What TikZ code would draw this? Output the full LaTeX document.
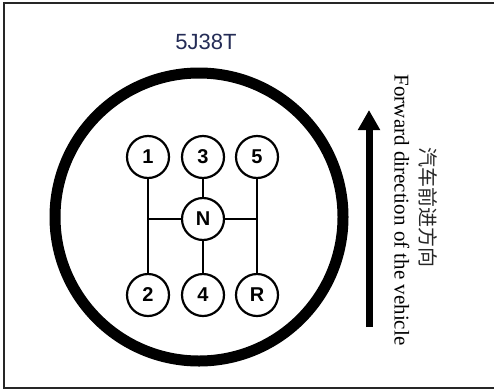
\documentclass[tikz,border=0pt]{standalone}
\usepackage{fontspec}
\setsansfont{Liberation Sans}
\newfontfamily\cjk{Noto Sans CJK SC}
\newfontfamily\capserif{Liberation Serif}
\definecolor{titleNavy}{RGB}{36,44,86}
\usetikzlibrary{arrows.meta,positioning}

\begin{document}
\begin{tikzpicture}[
  x=1pt,y=-1pt,
  gear/.style={draw,circle,line width=2.2pt,minimum size=42pt,inner sep=0pt,
    font=\sffamily\bfseries\fontsize{20}{22}\selectfont},
  rail/.style={line width=1.5pt},
  captext/.style={rotate=-90,inner sep=0pt}
]
\useasboundingbox (0,0) rectangle (494,391);
% frame, open on the right
\draw[line width=2.5pt,black!85] (494,3) -- (4,3) -- (4,388) -- (494,388);
% title and knob ring
\node[font=\sffamily\fontsize{22}{24}\selectfont,text=titleNavy] (title) at (206,42) {5J38T};
\draw[line width=11pt] (199,217) circle[radius=144pt];
% gear positions
\node[gear] (g1) at (148,157) {1};
\node[gear] (g3) at (203,157) {3};
\node[gear] (g5) at (257,157) {5};
\node[gear] (gN) at (203,219) {N};
\node[gear] (g2) at (148,295) {2};
\node[gear] (g4) at (203,295) {4};
\node[gear] (gR) at (257,295) {R};
% shift gate
\draw[rail] (g1) -- (g2);
\draw[rail] (g5) -- (gR);
\draw[rail] (g3) -- (gN);
\draw[rail] (gN) -- (g4);
\draw[rail] (gN) -- (gN -| g1);
\draw[rail] (gN) -- (gN -| g5);
% forward arrow and captions
\coordinate (arrtail) at (369,327);
\coordinate (arrtip) at (369,110);
\draw[line width=7pt,-{Triangle[width=21pt,length=20pt]}] (arrtail) -- (arrtip);
\node[captext,font=\capserif\fontsize{21}{24}\selectfont] (capen) at (402,210) {Forward direction of the vehicle};
\node[captext,font=\cjk\fontsize{20}{24}\selectfont,text=black!85] (capzh) at (428,207) {汽车前进方向};
\end{tikzpicture}
\end{document}
